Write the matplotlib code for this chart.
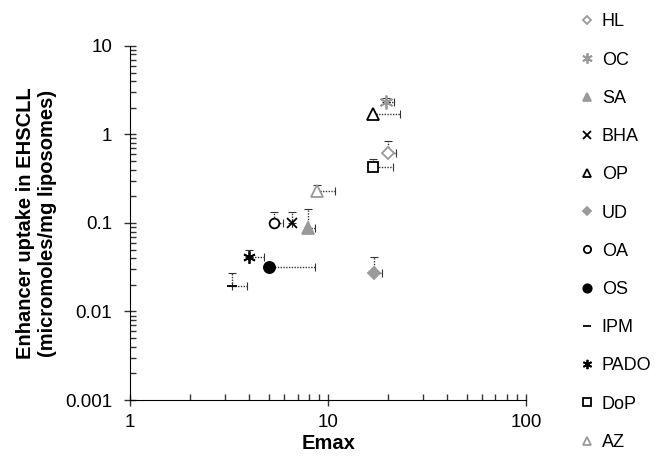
import numpy as np
import matplotlib.pyplot as plt
from matplotlib.ticker import LogLocator, NullFormatter, FixedLocator, FixedFormatter

plt.rcParams['font.family'] = ['Liberation Sans', 'DejaVu Sans']

# =========================
# DATA
# =========================
names = ['HL', 'OC', 'SA', 'BHA', 'OP', 'UD', 'OA', 'OS', 'IPM', 'PADO', 'DoP', 'AZ']
emax = [20.1, 19.5, 7.9, 6.6, 16.9, 17.1, 5.3, 5.0, 3.27, 4.0, 16.9, 8.8]
uptake = [0.62, 2.3, 0.088, 0.10, 1.69, 0.027, 0.10, 0.032, 0.0195, 0.041, 0.43, 0.23]
emax_err = [1.9, 2.0, 0.7, 0.0, 6.2, 1.7, 0.6, 3.6, 0.63, 0.75, 4.4, 2.0]
uptake_err = [0.23, 0.3, 0.057, 0.034, 0.0, 0.0145, 0.034, 0.0, 0.0078, 0.008, 0.1, 0.04]

gray = '#9a9a9a'
styles = {
    'HL':   dict(marker='D', mfc='white', mec=gray, ms=6),
    'OC':   dict(marker=(6, 2, 0), mfc=gray, mec=gray, ms=10),
    'SA':   dict(marker='^', mfc=gray, mec=gray, ms=8),
    'BHA':  dict(marker='x', mfc='black', mec='black', ms=7),
    'OP':   dict(marker='^', mfc='white', mec='black', ms=8),
    'UD':   dict(marker='D', mfc=gray, mec=gray, ms=6),
    'OA':   dict(marker='o', mfc='white', mec='black', ms=7),
    'OS':   dict(marker='o', mfc='black', mec='black', ms=8),
    'IPM':  dict(marker='_', mfc='black', mec='black', ms=7),
    'PADO': dict(marker=(6, 2, 0), mfc='black', mec='black', ms=9),
    'DoP':  dict(marker='s', mfc='white', mec='black', ms=7),
    'AZ':   dict(marker='^', mfc='white', mec=gray, ms=8),
}

fig = plt.figure(figsize=(6.61, 4.59), dpi=100)
ax = fig.add_axes([0.197, 0.1285, 0.599, 0.7715])

handles = []
for i, n in enumerate(names):
    st = styles[n]
    eb = ax.errorbar([emax[i]], [uptake[i]],
                     xerr=[[0], [emax_err[i]]], yerr=[[0], [uptake_err[i]]],
                     fmt='none', ecolor='#333333', elinewidth=1.0,
                     capsize=3, capthick=0.8, zorder=2)
    for lc in eb[2]:
        lc.set_linestyle((0, (1, 1)))
    h, = ax.plot([emax[i]], [uptake[i]], linestyle='none', marker=st['marker'],
                 markerfacecolor=st['mfc'], markeredgecolor=st['mec'],
                 markersize=st['ms'], markeredgewidth=1.3, zorder=3, label=n)
    handles.append(h)

ax.set_xscale('log')
ax.set_yscale('log')
ax.set_xlim(1, 100)
ax.set_ylim(0.001, 10)

ax.spines['top'].set_visible(False)
ax.spines['right'].set_visible(False)

ax.xaxis.set_major_locator(FixedLocator([1, 10, 100]))
ax.xaxis.set_major_formatter(FixedFormatter(['1', '10', '100']))
ax.yaxis.set_major_locator(FixedLocator([0.001, 0.01, 0.1, 1, 10]))
ax.yaxis.set_major_formatter(FixedFormatter(['0.001', '0.01', '0.1', '1', '10']))
ax.xaxis.set_minor_locator(LogLocator(base=10, subs=np.arange(2, 10)))
ax.yaxis.set_minor_locator(LogLocator(base=10, subs=np.arange(2, 10)))
ax.xaxis.set_minor_formatter(NullFormatter())
ax.yaxis.set_minor_formatter(NullFormatter())
ax.tick_params(which='major', direction='inout', length=8, width=1, labelsize=13.5, color='#333333')
ax.tick_params(which='minor', direction='in', length=4, width=1, color='#333333')
ax.tick_params(axis='x', which='major', pad=6)
ax.tick_params(axis='y', which='major', pad=9)

ax.set_xlabel('Emax', fontsize=14.5, fontweight='bold', labelpad=2)
ax.set_ylabel('Enhancer uptake in EHSCLL\n(micromoles/mg liposomes)',
              fontsize=14.5, fontweight='bold', labelpad=6)

fig.legend(handles=handles, loc='upper left', bbox_to_anchor=(0.853, 1.006),
           frameon=False, fontsize=13, labelspacing=1.175, handlelength=0.8,
           handletextpad=0.4, markerscale=0.75)

plt.savefig('out.png', dpi=100)
